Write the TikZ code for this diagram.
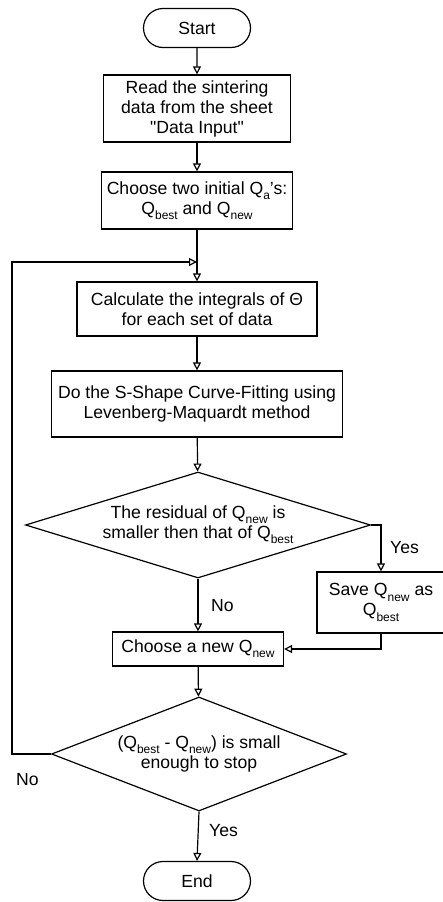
\documentclass[tikz,border=0pt]{standalone}
\usepackage{fontspec}
\setmainfont{Liberation Sans}
\usetikzlibrary{arrows.meta,shapes.geometric,shapes.misc}
\newcommand{\Qs}[1]{Q\raisebox{-0.3em}{\fontsize{12}{12}\selectfont #1}}

\begin{document}
\begin{tikzpicture}[x=1pt,y=-1pt,
		box/.style={draw,line width=1.2pt,align=center,inner sep=0pt,font=\fontsize{17.6}{20}\selectfont},
		term/.style={box,rounded rectangle,minimum width=107pt,minimum height=39pt},
		proc/.style={box,rectangle},
		dec/.style={box,diamond},
		arr/.style={line width=1.2pt,-{Triangle[open,length=8pt,width=8pt]}},
		lbl/.style={font=\fontsize{17.6}{20}\selectfont,anchor=west,inner sep=0pt}]
		\useasboundingbox (0,0) rectangle (442,902);
		\node[term] (start) at (197,28) {Start};
		\node[proc,minimum width=187pt,minimum height=67pt] (read) at (197,108.5) {Read the sintering\\data from the sheet\\\textquotedbl Data Input\textquotedbl};
		\node[proc,minimum width=191pt,minimum height=57pt] (choose) at (197,200.5) {Choose two initial \Qs{a}'s:\\\Qs{best} and \Qs{new}};
		\node[proc,minimum width=240pt,minimum height=54pt] (calc) at (197,309) {Calculate the integrals of Θ\\for each set of data};
		\node[proc,minimum width=291pt,minimum height=66pt] (fit) at (197,404) {Do the S-Shape Curve-Fitting using\\Levenberg-Maquardt method};
		\node[dec,aspect=3.25,minimum width=345pt,minimum height=106pt] (resid) at (198,525) {The residual of \Qs{new} is\\smaller then that of \Qs{best}};
		\node[proc,minimum width=128pt,minimum height=61pt] (save) at (381,602.5) {Save \Qs{new} as\\\Qs{best}};
		\node[proc,minimum width=171pt,minimum height=34pt] (newq) at (198,649) {Choose a new \Qs{new}};
		\node[dec,aspect=2.6,minimum width=295pt,minimum height=114pt] (small) at (199,754) {(\Qs{best} - \Qs{new}) is small\\enough to stop};
		\node[term] (end) at (197,881) {End};
		\coordinate (join) at (197,262);
		\coordinate (back) at (12,754);
		\draw[arr] (start) -- (read);
		\draw[arr] (read) -- (choose);
		\draw[arr] (choose) -- (calc);
		\draw[arr] (calc) -- (fit);
		\draw[arr] (fit) -- (resid);
		\draw[arr] (resid.east) -| (save.north);
		\draw[arr] (save.south) |- (newq.east);
		\draw[arr] (resid.south) -- (newq.north);
		\draw[arr] (newq) -- (small);
		\draw[arr] (small.south) -- (end.north);
		\draw[arr] (small.west) -- (back) |- (join);
		\node[lbl] (yes1) at (390,548) {Yes};
		\node[lbl] (no1) at (211,606) {No};
		\node[lbl] (no2) at (16,780) {No};
		\node[lbl] (yes2) at (209,831) {Yes};
	\end{tikzpicture}
\end{document}
